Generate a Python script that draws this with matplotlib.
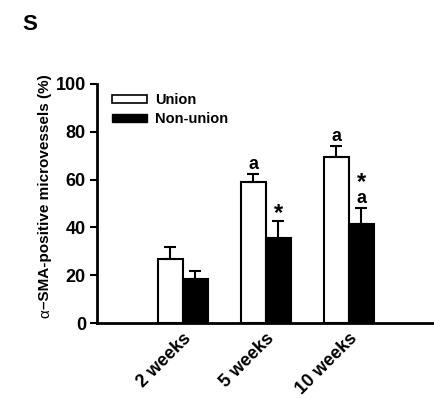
import numpy as np
import matplotlib.pyplot as plt
from matplotlib.patches import Patch

plt.rcParams['font.family'] = ['Liberation Sans', 'DejaVu Sans']

groups = ['2 weeks', '5 weeks', '10 weeks']
union = [26.6, 59.1, 69.3]
union_err = [5.3, 3.2, 4.7]
nonunion = [18.3, 35.7, 41.4]
nonunion_err = [3.5, 7.0, 6.6]
union_a = [False, True, True]
nonunion_a = [False, False, True]
nonunion_star = [False, True, True]

x = np.arange(len(groups))
w = 0.3

fig = plt.figure(figsize=(4.35, 3.99), dpi=100)
ax = fig.add_axes([97 / 435, 76 / 399, 1 - 97 / 435, 239 / 399])

ekw = dict(ecolor='black', elinewidth=1.5, capsize=4, capthick=1.5)
ax.bar(x - w / 2, union, w, color='white', edgecolor='black', linewidth=1.5,
       yerr=[np.zeros(3), union_err], error_kw=ekw)
ax.bar(x + w / 2, nonunion, w, color='black', edgecolor='black', linewidth=1.5,
       yerr=[np.zeros(3), nonunion_err], error_kw=ekw)

for i in range(len(groups)):
    if union_a[i]:
        ax.annotate('a', (x[i] - w / 2, union[i] + union_err[i]), xytext=(0, 1),
                    textcoords='offset points', ha='center', va='bottom', fontsize=13, fontweight='bold')
    off = 1
    top = nonunion[i] + nonunion_err[i]
    if nonunion_a[i]:
        ax.annotate('a', (x[i] + w / 2, top), xytext=(0, off),
                    textcoords='offset points', ha='center', va='bottom', fontsize=13, fontweight='bold')
        off += 13
    if nonunion_star[i]:
        ax.annotate('*', (x[i] + w / 2, top), xytext=(0, off - 4),
                    textcoords='offset points', ha='center', va='bottom', fontsize=17, fontweight='bold')

ax.set_xlim(-1.036, 3.04)
ax.set_ylim(0, 100)
ax.set_yticks([0, 20, 40, 60, 80, 100])
ax.set_xticks(x)
ax.set_xticklabels(groups, rotation=45, ha='right', va='top', rotation_mode='anchor',
                   fontsize=13, fontweight='bold')
ax.tick_params(axis='x', length=0, pad=5)
ax.tick_params(axis='y', length=5, width=1.5, labelsize=13, pad=3)
for lab in ax.get_yticklabels():
    lab.set_fontweight('bold')
for s in ['top', 'right']:
    ax.spines[s].set_visible(False)
for s in ['left', 'bottom']:
    ax.spines[s].set_linewidth(2)

# y label: alpha in regular weight, the rest bold
fig.text(45 / 435, 1 - 318 / 399, 'α', rotation=90, ha='center', va='bottom', fontsize=11)
fig.text(45 / 435, 1 - 309 / 399, '–SMA-positive microvessels (%)', rotation=90,
         ha='center', va='bottom', fontsize=11, fontweight='bold')

handles = [Patch(facecolor='white', edgecolor='black', linewidth=1.2, label='Union'),
           Patch(facecolor='black', edgecolor='black', label='Non-union')]
ax.legend(handles=handles, loc='upper left', bbox_to_anchor=(0.044, 0.962), frameon=False,
          borderaxespad=0, borderpad=0,
          handlelength=2.4, handleheight=0.5, labelspacing=0.35, handletextpad=0.55,
          prop={'weight': 'bold', 'size': 10.5})

fig.text(22 / 435, 1 - 30 / 399, 'S', fontsize=16, fontweight='bold')

fig.savefig('out.png', dpi=100)
